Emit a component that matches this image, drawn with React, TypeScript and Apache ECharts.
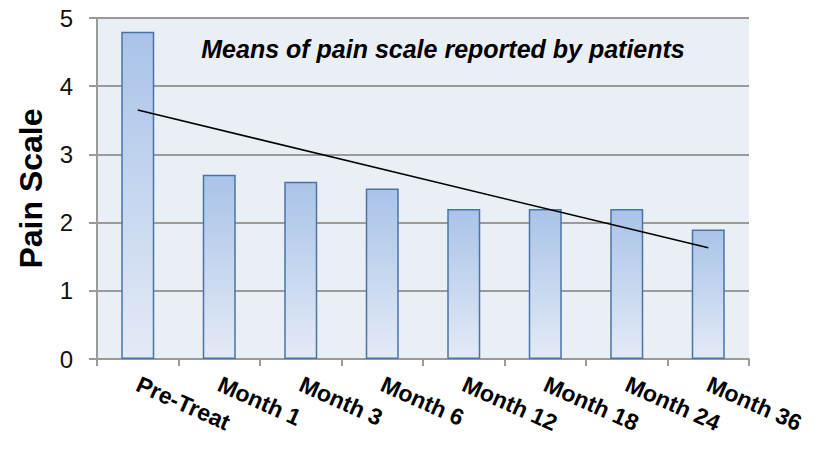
import React, { useEffect, useRef } from "react";
import * as echarts from "echarts";

const categories = ["Pre-Treat", "Month 1", "Month 3", "Month 6", "Month 12", "Month 18", "Month 24", "Month 36"];
const painMeans = [4.8, 2.7, 2.6, 2.5, 2.2, 2.2, 2.2, 1.9];
const trendStartEnd = [3.65, 1.63];
const titleText = "Means of pain scale reported by patients";
const yAxisName = "Pain Scale";

export default function App() {
  const ref = useRef<HTMLDivElement>(null);
  useEffect(() => {
    if (!ref.current) return;
    const chart = echarts.init(ref.current, null, { renderer: "svg" });
    const gray = "#9a9a9a";
    chart.setOption({
      animation: false,
      backgroundColor: "#ffffff",
      textStyle: { fontFamily: "Liberation Sans, Arial, sans-serif" },
      title: {
        text: titleText,
        left: 438,
        top: 31,
        textAlign: "center",
        textStyle: { fontSize: 25, fontWeight: "bold", fontStyle: "italic", color: "#000" },
      },
      grid: {
        left: 97,
        right: 70,
        top: 18,
        bottom: 101,
        show: true,
        backgroundColor: "#eaeef5",
        borderWidth: 0,
      },
      xAxis: {
        type: "category",
        data: categories,
        boundaryGap: true,
        axisLine: { show: true, lineStyle: { color: gray, width: 2 } },
        axisTick: { show: true, length: 7, lineStyle: { color: gray, width: 2 } },
        axisLabel: {
          rotate: -24,
          margin: 24,
          fontSize: 23,
          fontWeight: "bold",
          color: "#000",
          interval: 0,
        },
      },
      yAxis: {
        type: "value",
        min: 0,
        max: 5,
        interval: 1,
        name: yAxisName,
        nameLocation: "middle",
        nameGap: 50,
        nameTextStyle: { fontSize: 32, fontWeight: "bold", color: "#000" },
        axisLine: { show: true, lineStyle: { color: gray, width: 2 } },
        axisTick: { show: true, length: 8, lineStyle: { color: gray, width: 2 } },
        axisLabel: { fontSize: 24, color: "#111", margin: 24 },
        splitLine: { show: true, lineStyle: { color: gray, width: 2 } },
      },
      series: [
        {
          type: "bar",
          data: painMeans,
          barWidth: 33,
          itemStyle: {
            color: new echarts.graphic.LinearGradient(0, 0, 0, 1, [
              { offset: 0, color: "#a9c3e8" },
              { offset: 1, color: "#e3eaf6" },
            ]),
            borderColor: "#4a74a6",
            borderWidth: 1.5,
          },
          z: 2,
        },
        {
          type: "line",
          data: [
            [0, trendStartEnd[0]],
            [categories.length - 1, trendStartEnd[1]],
          ],
          symbol: "none",
          lineStyle: { color: "#000", width: 1.6 },
          z: 5,
        },
      ],
    });
    return () => chart.dispose();
  }, []);
  return <div ref={ref} style={{ width: 819, height: 460, position: "absolute", left: 0, top: 0 }} />;
}
